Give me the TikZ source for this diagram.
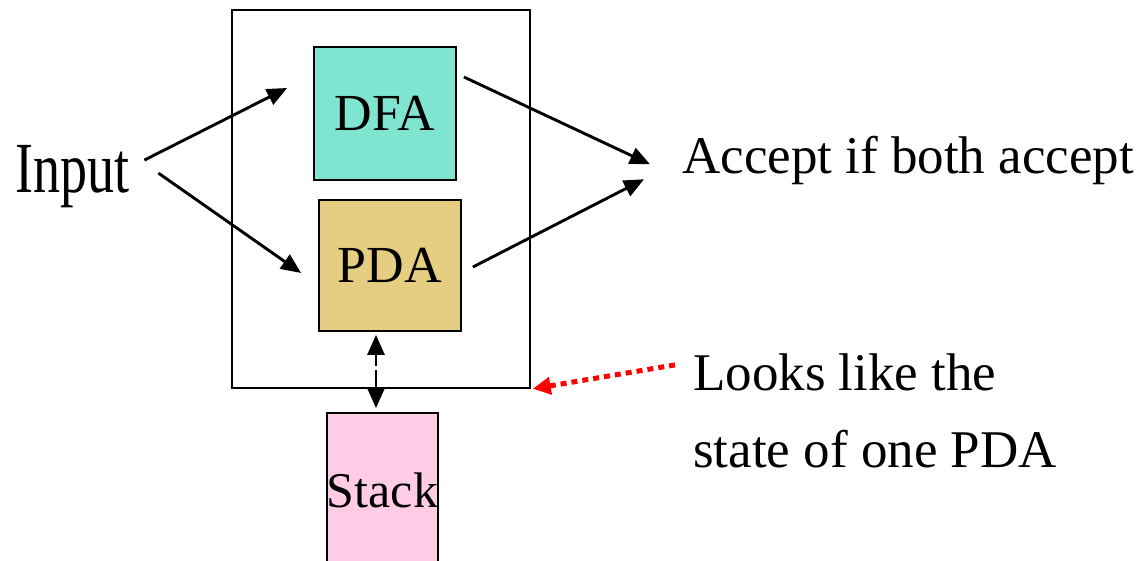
\documentclass[tikz,border=0pt]{standalone}
\usepackage{fontspec}
\setmainfont{Liberation Serif}
\usepackage{graphicx}
\usetikzlibrary{arrows.meta,calc}
\definecolor{dfafill}{RGB}{128,229,208}
\definecolor{pdafill}{RGB}{229,205,130}
\definecolor{stackfill}{RGB}{255,204,230}
\begin{document}
\begin{tikzpicture}[x=1pt,y=-1pt,
  frame/.style={draw=black,line width=1.5pt,inner sep=0pt},
  unit/.style={draw=black,line width=1.8pt,inner sep=0pt,font=\fontsize{52}{52}\selectfont},
  tip/.style={Triangle[length=20pt,width=17pt]},
  arr/.style={line width=2.9pt,-{Triangle[length=20pt,width=17pt]}},
  both/.style={line width=2.9pt,{Triangle[length=20pt,width=17pt]}-{Triangle[length=20pt,width=17pt]},
    dash pattern=on 12pt off 4pt on 80pt off 4pt},
  hint/.style={red,line width=5pt,dash pattern=on 6pt off 5pt,-{Triangle[length=18pt,width=17pt]}},
  lbl/.style={inner sep=0pt,anchor=base west,font=\fontsize{53}{53}\selectfont}]
\useasboundingbox (0,0) rectangle (1140,560);
\begin{scope}
\clip (0,0) rectangle (1140,560);

% machine frame with its two components
\node[frame, minimum width=298pt, minimum height=378pt] (box) at (381,199) {};
\node[unit, fill=dfafill, minimum width=142pt, minimum height=133pt] (dfa) at (385,113.5) {DFA};
\node[unit, fill=pdafill, minimum width=142pt, minimum height=131pt] (pda) at (390,265.5) {PDA};

% the stack, running off the bottom edge
\node[unit, fill=stackfill, minimum width=111pt, minimum height=154pt,
      font=\fontsize{50}{50}\selectfont] (stack) at (382.5,490) {Stack};

% labels
\node[lbl, font=\fontsize{72}{72}\selectfont] (input) at (15,192) {\scalebox{0.75}[1]{Input}};
\node[lbl] (accept) at (682,173) {Accept if both accept};
\node[lbl] (looks1) at (693,390) {Looks like the};
\node[lbl] (looks2) at (693,467) {state of one PDA};

% input feeds both machines
\draw[arr] ($(input.east)+(15,-16)$) -- ($(dfa.west)+(-26,-25.5)$);
\draw[arr] ($(input.east)+(29,-3)$) -- ($(pda.west)+(-17,7.5)$);

% outputs combine into acceptance
\draw[arr] ($(dfa.east)+(7,-36.5)$) -- ($(accept.west)+(-32,4.3)$);
\draw[arr] ($(pda.east)+(11,1.5)$) -- ($(accept.west)+(-38,19.3)$);

% stack access
\draw[both] ($(pda.south)+(-14,3)$) -- ($(stack.north)+(-6.5,-4)$);

% remark pointing at the frame
\coordinate (note) at ($(looks1.west)+(-18,-7)$);
\draw[hint] (note) -- ($(box.south east)+(2,0)$);
\end{scope}
\end{tikzpicture}
\end{document}
